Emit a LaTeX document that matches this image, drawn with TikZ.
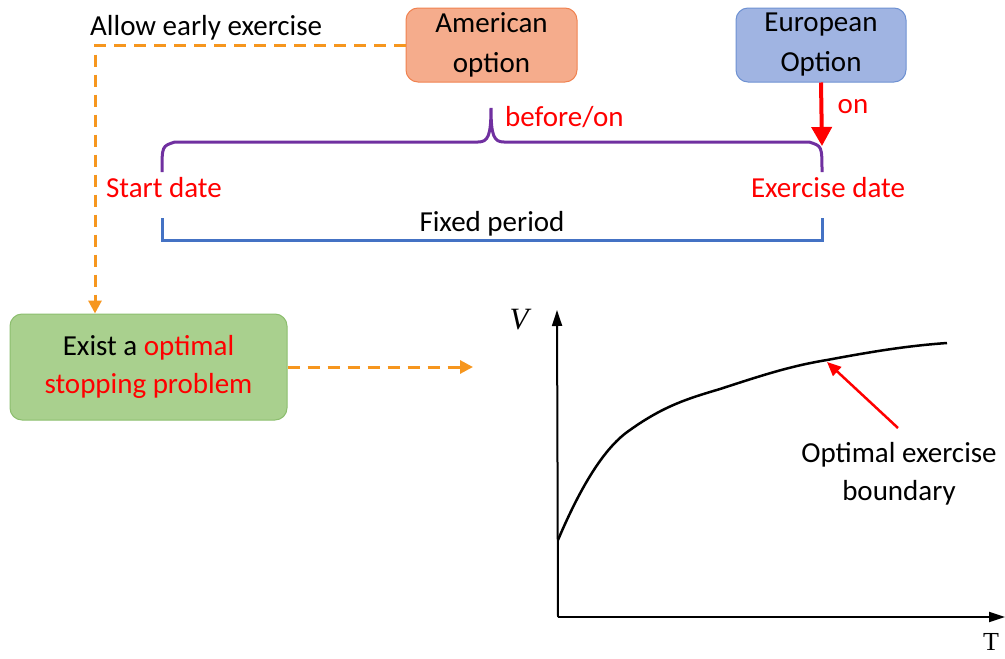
\documentclass[tikz,border=0pt]{standalone}
\usepackage{fontspec}
\setmainfont{Carlito}
\newfontfamily\serifit{Liberation Serif}
\usetikzlibrary{arrows.meta}
\definecolor{dashor}{RGB}{246,150,30}
\definecolor{amfill}{RGB}{245,172,140}
\definecolor{amdraw}{RGB}{240,130,80}
\definecolor{eufill}{RGB}{160,180,226}
\definecolor{eudraw}{RGB}{110,145,210}
\definecolor{grfill}{RGB}{169,208,142}
\definecolor{grdraw}{RGB}{140,190,110}
\definecolor{purp}{RGB}{112,48,160}
\definecolor{bluel}{RGB}{68,114,196}
\tikzset{
  txt/.style={font=\fontsize{29}{38}\selectfont, inner sep=0pt, align=center},
  boxnode/.style={txt, rounded corners=12pt, line width=1pt, minimum height=74pt},
  topbox/.style={boxnode, font=\fontsize{29}{40}\selectfont},
  orangedash/.style={draw=dashor, line width=3pt, dash pattern=on 12pt off 8pt},
  orangetip/.style={-{Triangle[length=13pt,width=13pt]}},
}
\begin{document}
\begin{tikzpicture}[x=1pt,y=-1pt]
\useasboundingbox (0,0) rectangle (1005,659);
% boxes
\node[topbox, fill=amfill, draw=amdraw, minimum width=171pt] (am) at (491.5,45) {American\\option};
\node[topbox, fill=eufill, draw=eudraw, minimum width=170pt] (eu) at (821,45) {European\\Option};
\node[boxnode, fill=grfill, draw=grdraw, minimum width=277pt, minimum height=106pt] (gr) at (148.5,367) {Exist a \textcolor{red}{optimal}\\\textcolor{red}{stopping problem}};
\node[txt, anchor=west] (allow) at (90,28) {Allow early exercise};
% orange dashed connectors
\coordinate (corner) at (95,45);
\draw[orangedash, orangetip] (am.west) -- (corner) -- (gr.north -| corner);
\coordinate (grend) at (473,367);
\draw[orangedash, orangetip] (gr.east) -- (grend);
% purple brace
\coordinate (bl) at (162,172);
\coordinate (br) at (822,172);
\coordinate (btip) at (491,108);
\draw[purp, line width=3pt] (bl) .. controls (162,146) .. (175,142) -- (478,142)
  .. controls (488,142) and (491,136) .. (btip)
  .. controls (491,136) and (494,142) .. (504,142) -- (809,142)
  .. controls (822,146) .. (br);
\node[txt, text=red, anchor=west] (bef) at (505,117) {before/on};
% red arrow on
\coordinate (ontip) at (822,146);
\draw[red, line width=4pt, -{Triangle[length=19pt,width=20pt]}] (eu.south) -- (ontip);
\node[txt, text=red] (on) at (853,107) {on};
\node[txt, text=red] (start) at (164,188) {Start date};
\node[txt, text=red] (exd) at (828,188) {Exercise date};
% blue bracket
\coordinate (fl) at (162,218);
\coordinate (fr) at (822,218);
\draw[bluel, line width=3pt] (fl) -- (162,240) -- (822,240) -- (fr);
\node[txt] (fixed) at (492,224) {Fixed period};
% graph
\coordinate (O) at (558,617);
\coordinate (ytop) at (557,310);
\coordinate (xend) at (1005,617);
\draw[line width=2pt, -{Triangle[length=16pt,width=10pt]}] (O) -- (ytop);
\draw[line width=2pt, -{Triangle[length=16pt,width=10pt]}] (O) -- (xend);
\node[font=\serifit\itshape\fontsize{31}{34}\selectfont, inner sep=0pt] (V) at (519,320) {V};
\node[font=\serifit\fontsize{26}{30}\selectfont, inner sep=0pt] (T) at (991,642) {T};
\coordinate (c0) at (558,540);
\coordinate (c5) at (947,343);
\draw[line width=2.5pt] (c0) .. controls (575,500) and (600,450) .. (630,430)
  .. controls (665,405) and (690,398) .. (720,389)
  .. controls (760,376) and (790,366) .. (827,360)
  .. controls (870,352) and (905,346) .. (c5);
\coordinate (rtail) at (898,428);
\coordinate (rhead) at (827,362);
\draw[red, line width=2.5pt, -{Triangle[length=14pt,width=12pt]}] (rtail) -- (rhead);
\node[txt] (oeb) at (899,474) {Optimal exercise\\boundary};
\end{tikzpicture}
\end{document}
